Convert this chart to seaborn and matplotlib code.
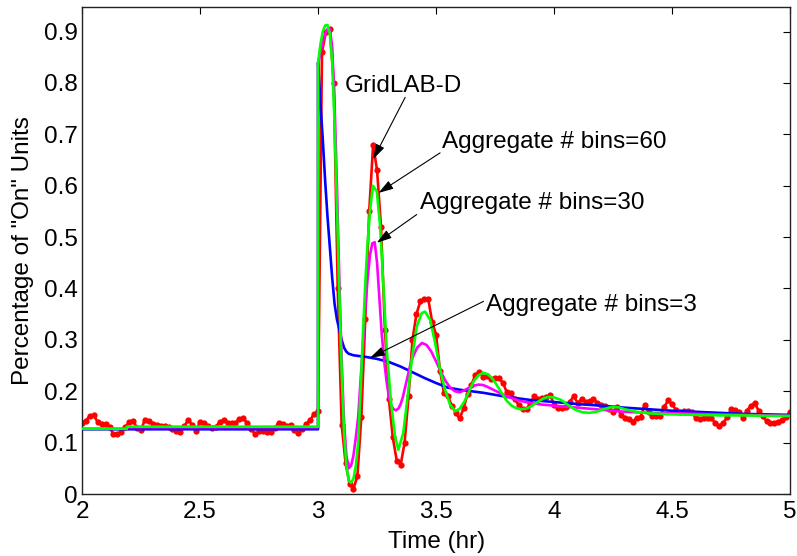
import numpy as np
import pandas as pd
import matplotlib
matplotlib.use("Agg")
import matplotlib.pyplot as plt
import seaborn as sns

# GridLAB-D simulation: one sample per minute from 2 h to 5 h
gridlabd_t0 = 2.0
gridlabd_step_hr = 1.0 / 60.0
gridlabd = [
    0.139, 0.143, 0.152, 0.153, 0.140, 0.137, 0.136, 0.130, 0.116, 0.117,
    0.121, 0.130, 0.140, 0.143, 0.128, 0.125, 0.145, 0.143, 0.137, 0.134,
    0.132, 0.133, 0.131, 0.127, 0.122, 0.120, 0.132, 0.144, 0.135, 0.122,
    0.141, 0.139, 0.132, 0.128, 0.131, 0.140, 0.144, 0.139, 0.139, 0.138,
    0.146, 0.147, 0.138, 0.127, 0.116, 0.123, 0.122, 0.120, 0.121, 0.128,
    0.139, 0.137, 0.133, 0.134, 0.125, 0.118, 0.127, 0.136, 0.144, 0.156,
    0.161, 0.860, 0.900, 0.905, 0.800, 0.400, 0.135, 0.060, 0.020, 0.010,
    0.035, 0.150, 0.340, 0.550, 0.680, 0.630, 0.520, 0.320, 0.185, 0.110,
    0.065, 0.057, 0.100, 0.190, 0.300, 0.350, 0.375, 0.380, 0.380, 0.335,
    0.310, 0.240, 0.197, 0.190, 0.172, 0.158, 0.147, 0.167, 0.195, 0.213,
    0.232, 0.238, 0.228, 0.229, 0.223, 0.226, 0.226, 0.216, 0.198, 0.196,
    0.185, 0.173, 0.165, 0.165, 0.178, 0.190, 0.185, 0.186, 0.188, 0.193,
    0.174, 0.167, 0.167, 0.169, 0.180, 0.190, 0.177, 0.185, 0.180, 0.181,
    0.184, 0.178, 0.174, 0.172, 0.165, 0.160, 0.170, 0.153, 0.148, 0.146,
    0.141, 0.148, 0.150, 0.174, 0.160, 0.152, 0.151, 0.152, 0.170, 0.182,
    0.175, 0.163, 0.159, 0.161, 0.162, 0.159, 0.148, 0.146, 0.147, 0.148,
    0.147, 0.138, 0.133, 0.138, 0.150, 0.165, 0.163, 0.160, 0.148, 0.162,
    0.172, 0.177, 0.162, 0.151, 0.142, 0.139, 0.139, 0.141, 0.144, 0.150,
    0.160,
]
gridlabd_time = gridlabd_t0 + gridlabd_step_hr * np.arange(len(gridlabd))

# Aggregate model, 60 bins
bins60_time = [
    2.00, 2.19, 2.19, 3.00, 3.00, 3.01, 3.02, 3.03, 3.04, 3.05, 3.06, 3.07,
    3.08, 3.09, 3.10, 3.11, 3.12, 3.13, 3.14, 3.15, 3.16, 3.17, 3.18, 3.19,
    3.20, 3.21, 3.22, 3.232, 3.249, 3.263, 3.277, 3.291, 3.308, 3.326, 3.340,
    3.361, 3.378, 3.397, 3.418, 3.439, 3.453, 3.475, 3.496, 3.517, 3.538,
    3.559, 3.581, 3.60, 3.62, 3.64, 3.66, 3.68, 3.70, 3.72, 3.74, 3.76, 3.78,
    3.80, 3.82, 3.84, 3.86, 3.88, 3.90, 3.92, 3.94, 3.96, 3.98, 4.00, 4.03,
    4.06, 4.09, 4.12, 4.15, 4.18, 4.21, 4.24, 4.27, 4.30, 4.35, 4.40, 4.50,
    4.60, 4.70, 4.80, 4.90, 5.00,
]
bins60 = [
    0.127, 0.127, 0.131, 0.131, 0.840, 0.875, 0.900, 0.912, 0.913, 0.895,
    0.840, 0.720, 0.560, 0.390, 0.240, 0.120, 0.055, 0.026, 0.022, 0.030,
    0.055, 0.100, 0.200, 0.310, 0.410, 0.490, 0.550, 0.600, 0.589, 0.521,
    0.404, 0.281, 0.184, 0.112, 0.086, 0.119, 0.184, 0.261, 0.326, 0.352,
    0.355, 0.339, 0.294, 0.242, 0.203, 0.174, 0.161, 0.166, 0.180, 0.200,
    0.220, 0.231, 0.236, 0.233, 0.224, 0.210, 0.195, 0.181, 0.172, 0.167,
    0.165, 0.166, 0.170, 0.176, 0.182, 0.187, 0.189, 0.188, 0.183, 0.173,
    0.164, 0.159, 0.158, 0.160, 0.165, 0.169, 0.169, 0.165, 0.160, 0.157,
    0.155, 0.154, 0.153, 0.153, 0.152, 0.152,
]

# Aggregate model, 30 bins
bins30_time = [
    2.00, 2.19, 2.19, 3.00, 3.00, 3.01, 3.02, 3.03, 3.04, 3.05, 3.06, 3.07,
    3.08, 3.09, 3.10, 3.11, 3.12, 3.13, 3.14, 3.15, 3.16, 3.17, 3.18, 3.19,
    3.20, 3.21, 3.22, 3.23, 3.24, 3.25, 3.26, 3.27, 3.28, 3.29, 3.30, 3.31,
    3.32, 3.33, 3.34, 3.35, 3.36, 3.37, 3.38, 3.39, 3.40, 3.42, 3.44, 3.46,
    3.48, 3.50, 3.52, 3.54, 3.56, 3.58, 3.60, 3.62, 3.64, 3.66, 3.68, 3.70,
    3.72, 3.76, 3.80, 3.85, 3.90, 3.95, 4.00, 4.10, 4.20, 4.30, 4.40, 4.50,
    4.60, 4.70, 4.80, 4.90, 5.00,
]
bins30 = [
    0.127, 0.127, 0.130, 0.130, 0.835, 0.860, 0.880, 0.895, 0.905, 0.905,
    0.870, 0.760, 0.600, 0.420, 0.260, 0.140, 0.075, 0.050, 0.055, 0.075,
    0.110, 0.150, 0.220, 0.290, 0.360, 0.420, 0.465, 0.488, 0.490, 0.450,
    0.380, 0.310, 0.260, 0.220, 0.190, 0.172, 0.165, 0.163, 0.166, 0.175,
    0.190, 0.210, 0.230, 0.250, 0.265, 0.285, 0.294, 0.290, 0.277, 0.258,
    0.238, 0.220, 0.207, 0.200, 0.198, 0.202, 0.207, 0.211, 0.213, 0.212,
    0.208, 0.199, 0.190, 0.182, 0.177, 0.174, 0.172, 0.168, 0.164, 0.160,
    0.158, 0.157, 0.156, 0.155, 0.154, 0.153, 0.152,
]

# Aggregate model, 3 bins
bins3_time = [
    2.00, 3.00, 3.00, 3.005, 3.01, 3.02, 3.03, 3.04, 3.05, 3.06, 3.07, 3.08,
    3.09, 3.10, 3.11, 3.12, 3.13, 3.15, 3.20, 3.25, 3.30, 3.35, 3.40, 3.45,
    3.50, 3.55, 3.60, 3.70, 3.80, 3.90, 4.00, 4.10, 4.20, 4.30, 4.40, 4.50,
    4.60, 4.70, 4.80, 4.90, 5.00,
]
bins3 = [
    0.126, 0.126, 0.840, 0.800, 0.760, 0.690, 0.610, 0.540, 0.480, 0.420,
    0.370, 0.340, 0.320, 0.300, 0.285, 0.277, 0.273, 0.270, 0.267, 0.263,
    0.257, 0.248, 0.237, 0.226, 0.216, 0.207, 0.203, 0.197, 0.189, 0.183,
    0.179, 0.175, 0.172, 0.168, 0.165, 0.162, 0.160, 0.158, 0.156, 0.155,
    0.154,
]

x_ticks = [2, 2.5, 3, 3.5, 4, 4.5, 5]
x_tick_labels = ["2", "2.5", "3", "3.5", "4", "4.5", "5"]
y_ticks = [0, 0.1, 0.2, 0.3, 0.4, 0.5, 0.6, 0.7, 0.8, 0.9]
y_tick_labels = ["0", "0.1", "0.2", "0.3", "0.4", "0.5", "0.6", "0.7", "0.8", "0.9"]

sns.set_style("white")
plt.rcParams["font.family"] = ["Liberation Sans", "DejaVu Sans"]
plt.rcParams["text.color"] = "black"
plt.rcParams["axes.labelcolor"] = "black"
plt.rcParams["xtick.color"] = "black"
plt.rcParams["ytick.color"] = "black"

FS = 17.5

fig = plt.figure(figsize=(7.97, 5.56), dpi=100)
ax = fig.add_axes([0.1029, 0.1115, 0.8885, 0.8760])

df_red = pd.DataFrame({"t": gridlabd_time, "v": gridlabd})
df_b3 = pd.DataFrame({"t": bins3_time, "v": bins3})
df_b30 = pd.DataFrame({"t": bins30_time, "v": bins30})
df_b60 = pd.DataFrame({"t": bins60_time, "v": bins60})

sns.lineplot(data=df_red, x="t", y="v", ax=ax, estimator=None, sort=False,
             color="#ff0000", lw=1.9, marker="o", markersize=4.5,
             markeredgewidth=0, zorder=2)
sns.lineplot(data=df_b3, x="t", y="v", ax=ax, estimator=None, sort=False,
             color="#0000ff", lw=1.9, zorder=3)
sns.lineplot(data=df_b30, x="t", y="v", ax=ax, estimator=None, sort=False,
             color="#ff00ff", lw=1.9, zorder=4)
sns.lineplot(data=df_b60, x="t", y="v", ax=ax, estimator=None, sort=False,
             color="#00ff00", lw=1.9, zorder=5)

ax.set_xlim(2, 5)
ax.set_ylim(0, 0.948)
ax.set_xticks(x_ticks)
ax.set_xticklabels(x_tick_labels)
ax.set_yticks(y_ticks)
ax.set_yticklabels(y_tick_labels)
ax.tick_params(direction="in", length=5, width=0.8, labelsize=FS,
               top=True, right=True, pad=3)
ax.tick_params(axis="x", pad=5)
for side in ("left", "right", "top", "bottom"):
    ax.spines[side].set_visible(True)
    ax.spines[side].set_color("#222222")
    ax.spines[side].set_linewidth(1.0)

ax.set_xlabel("Time (hr)", fontsize=FS, labelpad=6)
ax.set_ylabel('Percentage of "On" Units', fontsize=FS, labelpad=7)

arrow_kw = dict(arrowstyle="-|>,head_length=0.9,head_width=0.28",
                color="black", lw=0.8, shrinkA=0, shrinkB=0)

# label text, baseline anchor, arrow tail, arrow tip
notes = [
    ("GridLAB-D", (3.111, 0.783), (3.369, 0.772), (3.234, 0.652)),
    ("Aggregate # bins=60", (3.527, 0.673), (3.517, 0.664), (3.256, 0.586)),
    ("Aggregate # bins=30", (3.432, 0.555), (3.418, 0.544), (3.249, 0.489)),
    ("Aggregate # bins=3", (3.712, 0.357), (3.701, 0.375), (3.220, 0.265)),
]
for label, text_xy, tail, tip in notes:
    ax.text(text_xy[0], text_xy[1], label, fontsize=FS, ha="left",
            va="baseline", zorder=6)
    ax.annotate("", xy=tip, xytext=tail, arrowprops=arrow_kw, zorder=6)

fig.savefig("out.png", dpi=100)
